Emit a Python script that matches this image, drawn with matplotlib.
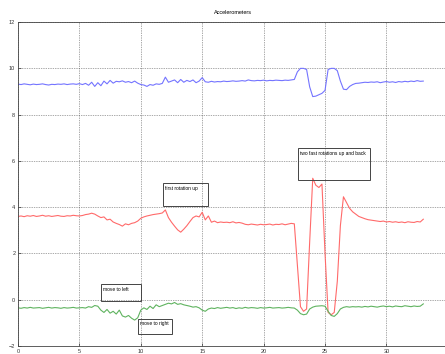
import numpy as np
import matplotlib
matplotlib.use("Agg")
import matplotlib.pyplot as plt
from matplotlib.patches import Rectangle

# time axis, sampled every 0.25 s
t = np.arange(0, 33.01, 0.25)

blue = [
    9.32, 9.30, 9.33, 9.31, 9.29, 9.32, 9.30, 9.31, 9.33, 9.30, 9.28, 9.31, 9.30, 9.32, 9.31, 9.33, 9.30, 9.32, 9.33, 9.31, 9.34,
    9.30, 9.35, 9.27, 9.40, 9.22, 9.38, 9.25, 9.45, 9.33, 9.48, 9.36, 9.44, 9.42, 9.46, 9.40, 9.43, 9.38, 9.45, 9.36, 9.30,
    9.28, 9.22, 9.30, 9.27, 9.33, 9.31, 9.35, 9.62,
    9.40, 9.45, 9.50, 9.38, 9.52, 9.40, 9.48, 9.43, 9.50, 9.38, 9.45, 9.60,
    9.42, 9.40, 9.44, 9.41, 9.43, 9.42, 9.45, 9.43, 9.44, 9.46, 9.44, 9.45, 9.47, 9.45, 9.50,
    9.47, 9.46, 9.48, 9.47, 9.49, 9.46, 9.48, 9.47, 9.49, 9.48, 9.47, 9.49, 9.48, 9.50, 9.52,
    9.85, 10.0, 10.0, 9.95, 9.20, 8.78, 8.80, 8.86, 8.92, 9.05,
    9.95, 10.0, 10.0, 9.90, 9.45, 9.10, 9.08, 9.22, 9.30, 9.35,
    9.36, 9.38, 9.40, 9.39, 9.41, 9.40, 9.42, 9.38, 9.41, 9.43, 9.40,
    9.42, 9.39, 9.43, 9.41, 9.44, 9.42, 9.45, 9.43, 9.47, 9.44, 9.45,
]

red = [
    3.60, 3.62, 3.59, 3.63, 3.61, 3.64, 3.60, 3.62, 3.65, 3.61, 3.63, 3.60, 3.62, 3.64, 3.61, 3.60, 3.63, 3.62, 3.65, 3.63, 3.62,
    3.64, 3.68, 3.70, 3.74, 3.70, 3.62, 3.55, 3.58, 3.45, 3.48, 3.36, 3.30, 3.25, 3.18, 3.28, 3.24, 3.30, 3.33, 3.40, 3.52,
    3.58, 3.62, 3.65, 3.68, 3.70, 3.72, 3.75, 3.88,
    3.55, 3.35, 3.18, 3.02, 2.92, 3.05, 3.20, 3.38, 3.55, 3.62, 3.58, 3.78,
    3.45, 3.62, 3.35, 3.40, 3.33, 3.36, 3.34, 3.35, 3.33, 3.37, 3.32, 3.34, 3.31, 3.26, 3.24,
    3.27, 3.25, 3.23, 3.26, 3.24, 3.25, 3.27, 3.23, 3.26, 3.25, 3.28, 3.24, 3.27, 3.30, 3.28,
    1.50, -0.30, -0.50, -0.40, 2.50, 5.25, 4.95, 4.85, 5.00, 2.00,
    -0.55, -0.65, -0.55, 0.80, 3.20, 4.45, 4.20, 3.95, 3.80, 3.70,
    3.60, 3.55, 3.50, 3.46, 3.44, 3.42, 3.40, 3.38, 3.40, 3.36, 3.38,
    3.35, 3.37, 3.34, 3.36, 3.33, 3.37, 3.35, 3.34, 3.38, 3.36, 3.48,
]

green = [
    -0.35, -0.37, -0.34, -0.36, -0.33, -0.36, -0.35, -0.34, -0.37, -0.35, -0.33, -0.36, -0.34, -0.35, -0.37, -0.34, -0.36, -0.35, -0.33, -0.36, -0.35,
    -0.34, -0.36, -0.30, -0.33, -0.25, -0.28, -0.45, -0.55, -0.42, -0.58, -0.50, -0.62, -0.45, -0.70, -0.75, -0.68, -0.80, -0.88, -0.78, -0.45,
    -0.35, -0.42, -0.28, -0.38, -0.22, -0.30, -0.25, -0.20,
    -0.15, -0.18, -0.12, -0.20, -0.17, -0.22, -0.25, -0.28, -0.32, -0.30, -0.35, -0.45,
    -0.50, -0.40, -0.36, -0.38, -0.34, -0.37, -0.35, -0.33, -0.36, -0.34, -0.38, -0.35, -0.37, -0.33, -0.36,
    -0.34, -0.35, -0.37, -0.34, -0.36, -0.35, -0.33, -0.36, -0.35, -0.34, -0.36, -0.35, -0.33, -0.35, -0.36,
    -0.45, -0.60, -0.65, -0.62, -0.40, -0.32, -0.28, -0.27, -0.26, -0.28,
    -0.50, -0.68, -0.72, -0.60, -0.40, -0.33, -0.30, -0.32, -0.30, -0.31,
    -0.30, -0.32, -0.29, -0.31, -0.28, -0.30, -0.32, -0.29, -0.27, -0.30, -0.28,
    -0.31, -0.27, -0.29, -0.30, -0.26, -0.28, -0.30, -0.27, -0.29, -0.28, -0.18,
]

title = "Accelerometers"
notes = [
    "first rotation up",
    "two fast rotations up and back",
    "move to left",
    "move to right",
]
xticks = list(range(0, 36, 5))
yticks = list(range(-2, 13, 2))

plt.rcParams["font.family"] = ["Liberation Sans", "DejaVu Sans"]

fig = plt.figure(figsize=(4.45, 3.54), dpi=100)
ax = fig.add_axes([0.0404, 0.0226, 0.966, 0.915])

ax.plot(t, blue, color="#7474ff", lw=0.8)
ax.plot(t, red, color="#ff6a6a", lw=0.8)
ax.plot(t, green, color="#5fb35f", lw=0.8)

ax.set_xlim(0, 35)
ax.set_ylim(-2, 12)
ax.set_xticks(xticks)
ax.set_yticks(yticks)
ax.tick_params(direction="in", labelsize=4, length=2, width=0.5, pad=2, colors="#333333")
ax.grid(True, linestyle=(0, (1, 1.5)), color="#555555", lw=0.5)
for s in ax.spines.values():
    s.set_linewidth(0.6)
    s.set_color("#444444")
ax.set_title(title, fontsize=4, pad=6)

# annotation boxes (x0, y0, width, height) in data units, text at top-left
boxes = [
    (11.8, 4.06, 3.7, 0.99),
    (22.8, 5.18, 5.9, 1.38),
    (6.75, -0.04, 3.25, 0.73),
    (9.76, -1.47, 2.74, 0.65),
]
for (x0, y0, w, h), txt in zip(boxes, notes):
    ax.add_patch(Rectangle((x0, y0), w, h, fill=False, ec="#444444", lw=0.7, zorder=5))
    ax.text(x0 + 0.2, y0 + h - 0.12, txt, fontsize=3.5, va="top", ha="left", zorder=6)

fig.savefig("out.png", dpi=100)
